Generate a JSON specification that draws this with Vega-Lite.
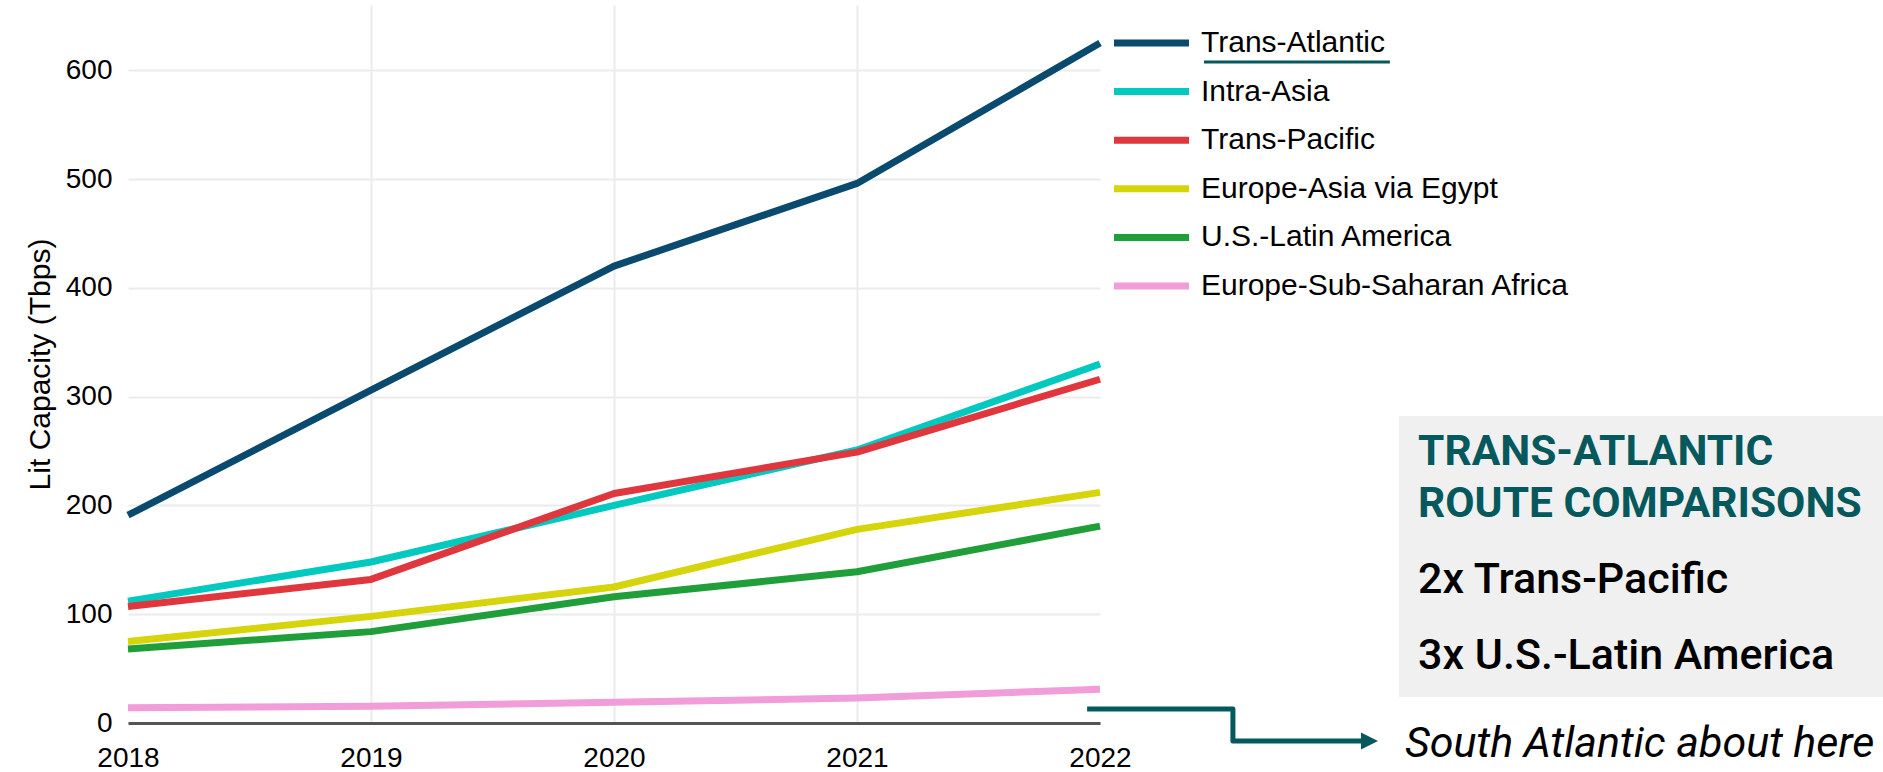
{
  "$schema": "https://vega.github.io/schema/vega-lite/v6.json",
  "width": 972,
  "height": 718,
  "autosize": {"type": "none"},
  "padding": {"left": 128, "top": 5, "right": 783, "bottom": 49},
  "background": "#ffffff",
  "config": {
    "view": {"stroke": null},
    "font": "Liberation Sans"
  },
  "layer": [
    {
      "data": {
        "values": [
          {"route": "Trans-Atlantic", "year": 2018, "value": 191},
          {"route": "Trans-Atlantic", "year": 2019, "value": 306},
          {"route": "Trans-Atlantic", "year": 2020, "value": 420},
          {"route": "Trans-Atlantic", "year": 2021, "value": 496},
          {"route": "Trans-Atlantic", "year": 2022, "value": 625},
          {"route": "Intra-Asia", "year": 2018, "value": 112},
          {"route": "Intra-Asia", "year": 2019, "value": 148},
          {"route": "Intra-Asia", "year": 2020, "value": 200},
          {"route": "Intra-Asia", "year": 2021, "value": 251},
          {"route": "Intra-Asia", "year": 2022, "value": 330},
          {"route": "Trans-Pacific", "year": 2018, "value": 107},
          {"route": "Trans-Pacific", "year": 2019, "value": 132},
          {"route": "Trans-Pacific", "year": 2020, "value": 211},
          {"route": "Trans-Pacific", "year": 2021, "value": 249},
          {"route": "Trans-Pacific", "year": 2022, "value": 316},
          {"route": "Europe-Asia via Egypt", "year": 2018, "value": 75},
          {"route": "Europe-Asia via Egypt", "year": 2019, "value": 98},
          {"route": "Europe-Asia via Egypt", "year": 2020, "value": 125},
          {"route": "Europe-Asia via Egypt", "year": 2021, "value": 178},
          {"route": "Europe-Asia via Egypt", "year": 2022, "value": 212},
          {"route": "U.S.-Latin America", "year": 2018, "value": 68},
          {"route": "U.S.-Latin America", "year": 2019, "value": 84},
          {"route": "U.S.-Latin America", "year": 2020, "value": 116},
          {"route": "U.S.-Latin America", "year": 2021, "value": 139},
          {"route": "U.S.-Latin America", "year": 2022, "value": 181},
          {"route": "Europe-Sub-Saharan Africa", "year": 2018, "value": 14},
          {"route": "Europe-Sub-Saharan Africa", "year": 2019, "value": 15.5},
          {"route": "Europe-Sub-Saharan Africa", "year": 2020, "value": 19},
          {"route": "Europe-Sub-Saharan Africa", "year": 2021, "value": 23},
          {"route": "Europe-Sub-Saharan Africa", "year": 2022, "value": 31}
        ]
      },
      "mark": {"type": "line", "strokeWidth": 7, "strokeJoin": "round", "strokeCap": "butt"},
      "encoding": {
        "x": {
          "field": "year", "type": "quantitative",
          "scale": {"domain": [2018, 2022], "nice": false, "zero": false},
          "axis": {
            "title": null, "values": [2018, 2019, 2020, 2021, 2022], "format": "d",
            "grid": true,
            "gridColor": {"condition": {"test": "datum.value > 2018 && datum.value < 2022", "value": "#ebebeb"}, "value": "transparent"},
            "gridWidth": 2,
            "domain": true, "domainColor": "#555555", "domainWidth": 3,
            "ticks": false, "tickSize": 0,
            "labelFontSize": 28, "labelFont": "Liberation Sans", "labelColor": "#000000",
            "labelPadding": 21, "labelFlush": false
          }
        },
        "y": {
          "field": "value", "type": "quantitative",
          "scale": {"domain": [0, 660], "nice": false, "zero": true},
          "axis": {
            "title": "Lit Capacity (Tbps)",
            "titleFontSize": 30, "titleFontWeight": "normal", "titleFont": "Liberation Sans", "titleColor": "#000000",
            "titlePadding": 10,
            "values": [0, 100, 200, 300, 400, 500, 600],
            "grid": true, "gridColor": "#ebebeb", "gridWidth": 2,
            "domain": false, "ticks": false, "tickSize": 0,
            "labelFontSize": 28, "labelFont": "Liberation Sans", "labelColor": "#000000",
            "labelPadding": 16
          }
        },
        "color": {
          "field": "route", "type": "nominal",
          "scale": {
            "domain": ["Trans-Atlantic", "Intra-Asia", "Trans-Pacific", "Europe-Asia via Egypt", "U.S.-Latin America", "Europe-Sub-Saharan Africa"],
            "range": ["#0a4a6e", "#00c9bf", "#e0363e", "#d6d40a", "#1f9e3a", "#f09dd9"]
          },
          "legend": {
            "title": null,
            "orient": "none",
            "legendX": 991,
            "legendY": 5.5,
            "padding": 0,
            "symbolType": "M-1.293,0L1.293,0",
            "symbolSize": 3364,
            "symbolStrokeWidth": 7,
            "labelFontSize": 30,
            "labelFont": "Liberation Sans",
            "labelColor": "#000000",
            "labelOffset": 17,
            "rowPadding": 0.6,
            "labelLimit": 600
          }
        }
      }
    },
    {
      "data": {"values": [{"year": 2023.23, "year2": 2025.3, "value": 282.2, "value2": 23.9}]},
      "mark": {"type": "rect", "color": "#f0f0f0"},
      "encoding": {
        "x": {"field": "year", "type": "quantitative", "scale": {"domain": [2018, 2022], "nice": false, "zero": false}},
        "x2": {"field": "year2"},
        "y": {"field": "value", "type": "quantitative", "scale": {"domain": [0, 660], "nice": false, "zero": true}},
        "y2": {"field": "value2"}
      }
    },
    {
      "data": {"values": [
        {"year": 2023.309, "value": 237.2, "label": "TRANS-ATLANTIC"},
        {"year": 2023.309, "value": 189.6, "label": "ROUTE COMPARISONS"}
      ]},
      "mark": {"type": "text", "align": "left", "baseline": "alphabetic", "font": "Roboto", "fontWeight": "bold", "fontSize": 42.5, "color": "#05585c"},
      "encoding": {
        "x": {"field": "year", "type": "quantitative", "scale": {"domain": [2018, 2022], "nice": false, "zero": false}},
        "y": {"field": "value", "type": "quantitative", "scale": {"domain": [0, 660], "nice": false, "zero": true}},
        "text": {"field": "label"}
      }
    },
    {
      "data": {"values": [
        {"year": 2023.309, "value": 119.5, "label": "2x Trans-Pacific"},
        {"year": 2023.309, "value": 49.6, "label": "3x U.S.-Latin America"}
      ]},
      "mark": {"type": "text", "align": "left", "baseline": "alphabetic", "font": "Roboto", "fontWeight": 500, "fontSize": 43, "color": "#000000"},
      "encoding": {
        "x": {"field": "year", "type": "quantitative", "scale": {"domain": [2018, 2022], "nice": false, "zero": false}},
        "y": {"field": "value", "type": "quantitative", "scale": {"domain": [0, 660], "nice": false, "zero": true}},
        "text": {"field": "label"}
      }
    },
    {
      "data": {"values": [
        {"year": 2023.255, "value": -31.3, "label": "South Atlantic about here"}
      ]},
      "mark": {"type": "text", "align": "left", "baseline": "alphabetic", "font": "Roboto", "fontStyle": "italic", "fontSize": 43, "color": "#000000"},
      "encoding": {
        "x": {"field": "year", "type": "quantitative", "scale": {"domain": [2018, 2022], "nice": false, "zero": false}},
        "y": {"field": "value", "type": "quantitative", "scale": {"domain": [0, 660], "nice": false, "zero": true}},
        "text": {"field": "label"}
      }
    },
    {
      "data": {"values": [
        {"year": 2021.947, "value": 12.9, "step": 1},
        {"year": 2022.547, "value": 12.9, "step": 2},
        {"year": 2022.547, "value": -16.5, "step": 3},
        {"year": 2023.095, "value": -16.5, "step": 4}
      ]},
      "mark": {"type": "line", "color": "#05585c", "strokeWidth": 5, "strokeJoin": "round"},
      "encoding": {
        "x": {"field": "year", "type": "quantitative", "scale": {"domain": [2018, 2022], "nice": false, "zero": false}},
        "y": {"field": "value", "type": "quantitative", "scale": {"domain": [0, 660], "nice": false, "zero": true}},
        "order": {"field": "step", "type": "quantitative"}
      }
    },
    {
      "data": {"values": [{"year": 2023.109, "value": -16.5}]},
      "mark": {"type": "point", "shape": "M-1,-1L1,0L-1,1Z", "size": 289, "filled": true, "color": "#05585c", "opacity": 1},
      "encoding": {
        "x": {"field": "year", "type": "quantitative", "scale": {"domain": [2018, 2022], "nice": false, "zero": false}},
        "y": {"field": "value", "type": "quantitative", "scale": {"domain": [0, 660], "nice": false, "zero": true}}
      }
    },
    {
      "data": {"values": [{"year": 2022.428, "year2": 2023.193, "value": 607.6}]},
      "mark": {"type": "rule", "color": "#05585c", "strokeWidth": 3},
      "encoding": {
        "x": {"field": "year", "type": "quantitative", "scale": {"domain": [2018, 2022], "nice": false, "zero": false}},
        "x2": {"field": "year2"},
        "y": {"field": "value", "type": "quantitative", "scale": {"domain": [0, 660], "nice": false, "zero": true}}
      }
    }
  ]
}
